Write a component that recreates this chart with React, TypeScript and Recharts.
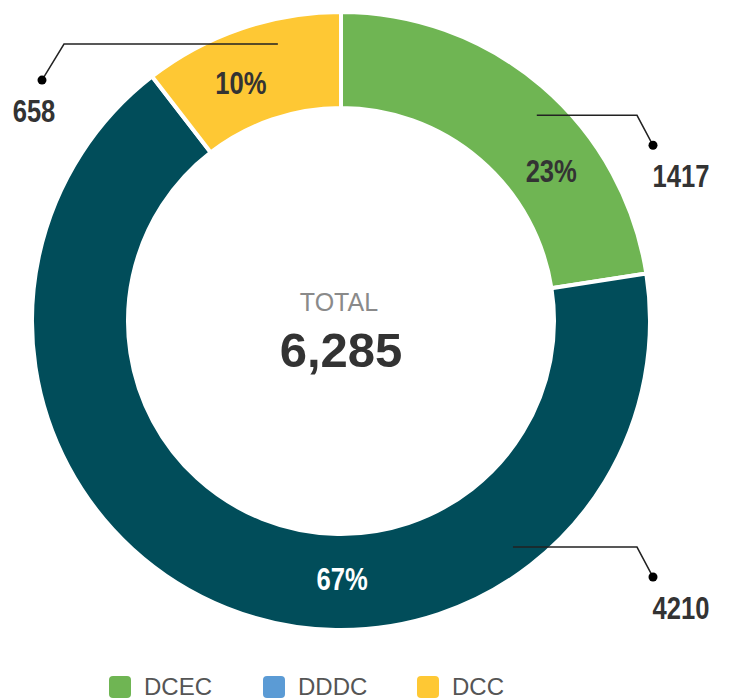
import React from "react";
import { PieChart, Pie, Cell, Legend } from "recharts";

const categories = ["DCEC", "DDDC", "DCC"];
const counts = [1417, 4210, 658];
const sliceColors = ["#6fb553", "#014d5a", "#fec834"];
const legendColors = ["#6fb553", "#5b9bd5", "#fec834"];

const total = counts.reduce((a, b) => a + b, 0);
const data = categories.map((name, i) => ({ name, value: counts[i] }));

const CX = 333;
const CY = 313;
const RAD = Math.PI / 180;
const sans = "'Liberation Sans', Arial, sans-serif";

// hand placed label angles (degrees added to the slice mid angle)
const pctShift: Record<string, number> = { DCEC: -14, DDDC: 22, DCC: 4 };
const leadShift: Record<string, number> = { DCEC: -3, DDDC: 59, DCC: -6 };

// bold sans squeezed horizontally, standing in for a condensed face
const Narrow = ({ x, y, fill, children }: any) => (
  <text
    transform={`translate(${x},${y}) scale(0.8,1)`}
    textAnchor="middle"
    fill={fill}
    style={{ fontFamily: sans, fontWeight: 700, fontSize: 32 }}
  >
    {children}
  </text>
);

const renderLabel = (props: any) => {
  const { cx, cy, midAngle, outerRadius, percent, value, name } = props;
  const pa = (midAngle + pctShift[name]) * RAD;
  const px = cx + 258 * Math.cos(pa);
  const py = cy - 258 * Math.sin(pa);

  const la = (midAngle + leadShift[name]) * RAD;
  const lr = outerRadius - 25;
  const sx = cx + lr * Math.cos(la);
  const sy = cy - lr * Math.sin(la);
  const right = Math.cos(la) >= 0;
  const ex = right ? cx + outerRadius - 13 : cx - outerRadius + 32;
  const dx = right ? ex + 16 : ex - 22;
  const dy = right ? sy + 30 : sy + 36;
  const tx = right ? dx + 28 : dx - 8;

  return (
    <g>
      <Narrow x={px} y={py + 11} fill={name === "DDDC" ? "#fff" : "#333"}>
        {Math.round(percent * 100)}%
      </Narrow>
      <polyline
        points={`${sx},${sy} ${ex},${sy} ${dx},${dy}`}
        fill="none"
        stroke="#222"
        strokeWidth={1.5}
      />
      <circle cx={dx} cy={dy} r={4.5} fill="#000" />
      <Narrow x={tx} y={dy + 42} fill="#333">
        {value}
      </Narrow>
    </g>
  );
};

const renderLegend = () => (
  <div style={{ display: "flex" }}>
    {categories.map((name, i) => (
      <div key={name} style={{ width: 154, display: "flex", alignItems: "center" }}>
        <span
          style={{
            width: 22,
            height: 22,
            borderRadius: 4,
            background: legendColors[i],
            display: "inline-block",
            marginRight: 13,
          }}
        />
        <span style={{ fontFamily: sans, fontSize: 24, color: "#555", lineHeight: "24px" }}>{name}</span>
      </div>
    ))}
  </div>
);

export default function App() {
  return (
    <div style={{ width: 725, height: 692, background: "#fff" }}>
      <PieChart width={725} height={692} margin={{ top: 0, right: 0, bottom: 0, left: 0 }}>
        <Pie
          data={data}
          dataKey="value"
          nameKey="name"
          cx={CX}
          cy={CY}
          innerRadius={213}
          outerRadius={309}
          startAngle={90}
          endAngle={-270}
          stroke="#fff"
          strokeWidth={4}
          label={renderLabel}
          labelLine={false}
          isAnimationActive={false}
        >
          {data.map((d, i) => (
            <Cell key={d.name} fill={sliceColors[i]} />
          ))}
        </Pie>
        <text x={CX - 2} y={CY - 10} textAnchor="middle" fill="#8a8a8a" style={{ fontFamily: sans, fontSize: 25 }}>
          TOTAL
        </text>
        <text x={CX} y={CY + 46} textAnchor="middle" fill="#333" style={{ fontFamily: sans, fontSize: 49, fontWeight: 700 }}>
          {total.toLocaleString("en-US")}
        </text>
        <Legend content={renderLegend} wrapperStyle={{ left: 101, top: 667, width: 470 }} />
      </PieChart>
    </div>
  );
}
